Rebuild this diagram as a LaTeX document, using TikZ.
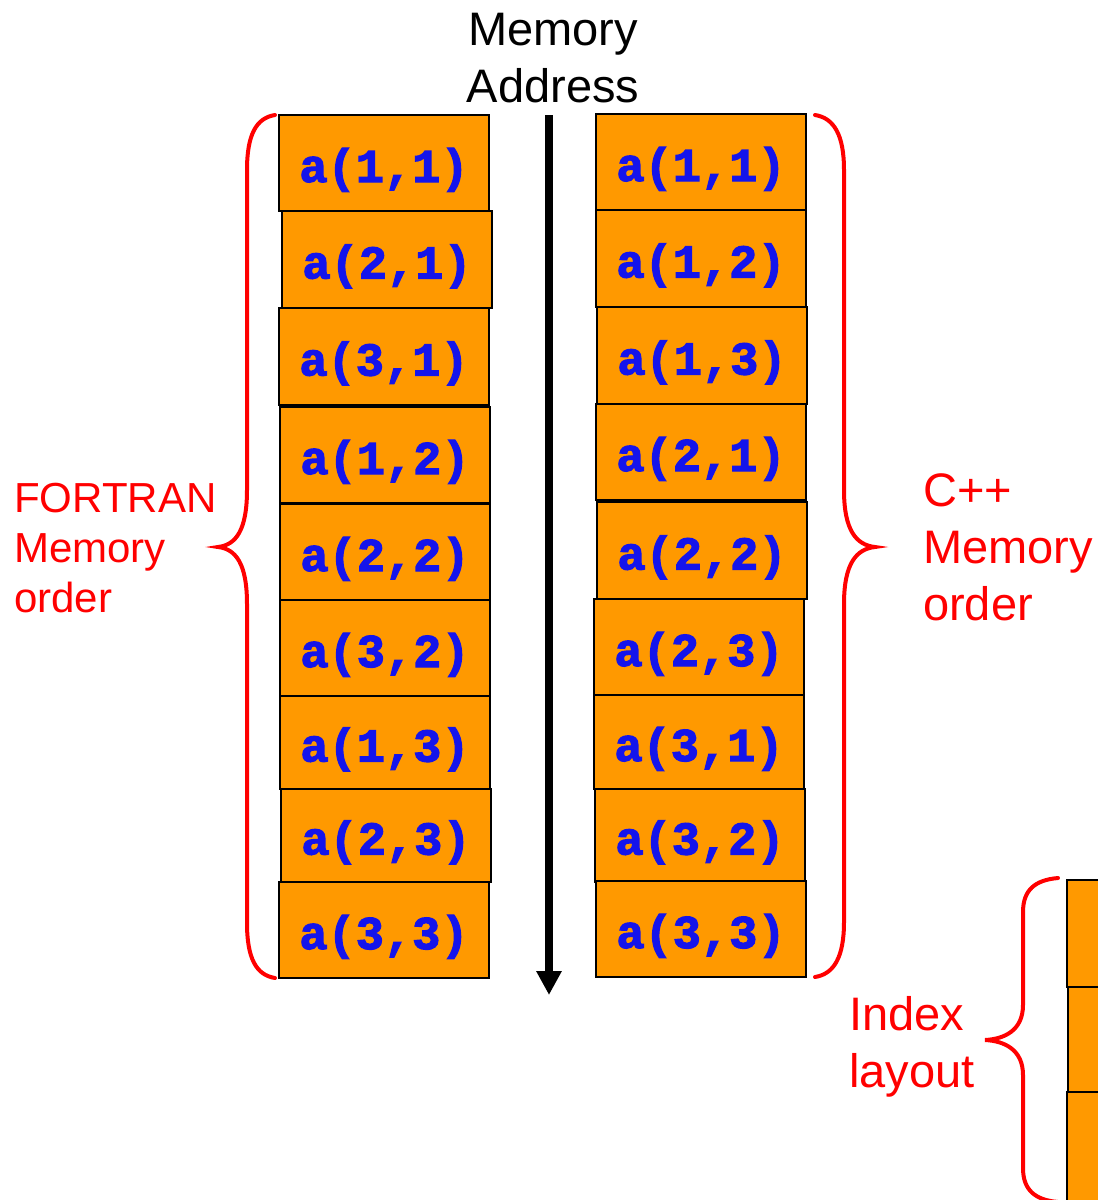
\documentclass[tikz,border=0pt]{standalone}
\usepackage{fontspec}
\setmainfont{Liberation Sans}
\newfontfamily\codefont[FakeBold=2.5]{Liberation Mono}
\usetikzlibrary{arrows.meta}
\definecolor{boxorange}{RGB}{255,153,0}
\definecolor{codeblue}{RGB}{20,20,235}
\definecolor{bracered}{RGB}{255,0,0}
\begin{document}
\begin{tikzpicture}[x=1pt,y=-1pt,
  cell/.style={draw=black, line width=1.5pt, fill=boxorange, text=codeblue,
    font=\codefont\bfseries\fontsize{47}{47}\selectfont, inner sep=0pt, outer sep=0pt,
    text height=38pt, text depth=0pt,
    anchor=north west, minimum width=210pt},
  bracepath/.style={draw=bracered, line width=4pt, line cap=round},
  redlabel/.style={text=bracered, align=left, inner sep=0pt, anchor=north west},
  titlelabel/.style={text=black, align=center, inner sep=0pt, anchor=north,
    font=\fontsize{47}{57}\selectfont}]
\useasboundingbox (0,0) rectangle (1098,1200);
\fill[white] (0,0) rectangle (1098,1200);

% title
\node[titlelabel] (title) at (553,13) {Memory\\Address};

% left column (FORTRAN order)
\node[cell, minimum height=96pt] (L1) at (279,115) {a(1,1)};
\node[cell, minimum height=97pt] (L2) at (282,211) {a(2,1)};
\node[cell, minimum height=97pt] (L3) at (279,308) {a(3,1)};
\node[cell, minimum height=96pt] (L4) at (280,407) {a(1,2)};
\node[cell, minimum height=96pt] (L5) at (280,504) {a(2,2)};
\node[cell, minimum height=96pt] (L6) at (280,600) {a(3,2)};
\node[cell, minimum height=93pt] (L7) at (280,696) {a(1,3)};
\node[cell, minimum height=93pt] (L8) at (281,789) {a(2,3)};
\node[cell, minimum height=96pt] (L9) at (279,882) {a(3,3)};

% right column (C++ order)
\node[cell, minimum height=96pt] (R1) at (596,114) {a(1,1)};
\node[cell, minimum height=97pt] (R2) at (596,210) {a(1,2)};
\node[cell, minimum height=97pt] (R3) at (597,307) {a(1,3)};
\node[cell, minimum height=96pt] (R4) at (596,404) {a(2,1)};
\node[cell, minimum height=97pt] (R5) at (597,502) {a(2,2)};
\node[cell, minimum height=96pt] (R6) at (594,599) {a(2,3)};
\node[cell, minimum height=94pt] (R7) at (594,695) {a(3,1)};
\node[cell, minimum height=93pt] (R8) at (595,789) {a(3,2)};
\node[cell, minimum height=96pt] (R9) at (596,881) {a(3,3)};

% memory address arrow
\coordinate (arrowtop) at (549,115);
\coordinate (arrowbot) at (549,995);
\draw[line width=8pt, -{Triangle[width=24pt,length=24pt]}] (arrowtop) -- (arrowbot);

% left brace
\draw[bracepath] (275,115) .. controls (256,118) and (247,135) .. (247,170)
  -- (247,490) .. controls (247,530) and (236,545) .. (218,547)
  .. controls (236,549) and (247,564) .. (247,604)
  -- (247,923) .. controls (247,958) and (256,975) .. (275,978);
\node[redlabel, font=\fontsize{42}{50}\selectfont] (fortran) at (14,483) {FORTRAN\\Memory\\order};

% right brace
\draw[bracepath] (815,115) .. controls (834,118) and (844,135) .. (844,170)
  -- (844,490) .. controls (844,530) and (856,545) .. (875,547)
  .. controls (856,549) and (844,564) .. (844,604)
  -- (844,922) .. controls (844,957) and (834,974) .. (815,977);
\node[redlabel, font=\fontsize{47}{57}\selectfont] (cpp) at (923,473) {C++\\Memory\\order};

% index layout
\node[cell, minimum height=107pt, minimum width=60pt] (I1) at (1067,880) {};
\node[cell, minimum height=105pt, minimum width=60pt] (I2) at (1068,987) {};
\node[cell, minimum height=120pt, minimum width=60pt] (I3) at (1067,1092) {};
\draw[bracepath] (1058,878) .. controls (1035,880) and (1023,890) .. (1023,912)
  -- (1023,1005) .. controls (1023,1030) and (1005,1039) .. (985,1040)
  .. controls (1005,1041) and (1023,1050) .. (1023,1075)
  -- (1023,1168) .. controls (1023,1190) and (1035,1200) .. (1058,1202);
\node[redlabel, font=\fontsize{47}{57}\selectfont] (index) at (849,996) {Index\\layout};
\end{tikzpicture}
\end{document}
